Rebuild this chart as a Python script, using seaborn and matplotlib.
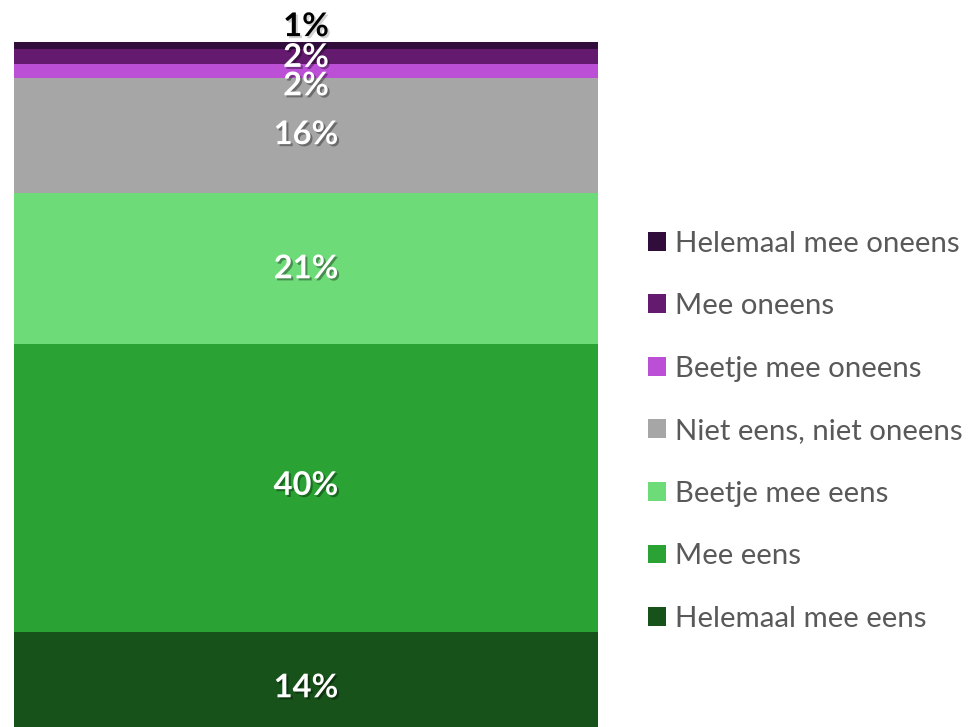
import matplotlib
matplotlib.use("Agg")
import matplotlib.pyplot as plt
import matplotlib.patheffects as pe
from matplotlib.patches import Patch
import seaborn as sns
import pandas as pd

# Answer categories, listed from the top of the stack down
categories = [
    "Helemaal mee oneens",
    "Mee oneens",
    "Beetje mee oneens",
    "Niet eens, niet oneens",
    "Beetje mee eens",
    "Mee eens",
    "Helemaal mee eens",
]
percentages = [1, 2, 2, 16, 21, 40, 14]
colors = ["#300d3b", "#641a6f", "#bb4fd6", "#a6a6a6", "#6ddb78", "#2aa334", "#165219"]
label_colors = ["black", "white", "white", "white", "white", "white", "white"]
# nudges (pixels) for the crowded labels at the top of the bar
label_nudge = [19, -1, -15, 1, 0, 3, -5]

df = pd.DataFrame({"groep": [0] * len(categories),
                   "antwoord": categories,
                   "pct": percentages})

sns.set_theme(style="white")
plt.rcParams["font.family"] = ["Lato", "DejaVu Sans"]

W, H = 971, 727
fig = plt.figure(figsize=(W / 100, H / 100), dpi=100)
px_per_unit = 7.2
total = sum(percentages)
top_px = 42
bottom_px = top_px + total * px_per_unit
ax = fig.add_axes([14 / W, (H - bottom_px) / H, 584 / W, (bottom_px - top_px) / H])

sns.histplot(data=df, x="groep", weights="pct", hue="antwoord",
             hue_order=categories, palette=colors, multiple="stack",
             discrete=True, shrink=1.0, element="bars", alpha=1,
             linewidth=0, legend=False, ax=ax)

ax.set_xlim(-0.5, 0.5)
ax.set_ylim(0, total)
ax.axis("off")

# value labels at the centre of each segment
running = total
for cat, val, lc, dy in zip(categories, percentages, label_colors, label_nudge):
    centre = running - val / 2
    running -= val
    shadow = "#000000" if lc == "white" else "#808080"
    ax.annotate(f"{val}%", xy=(0, centre), xytext=(0, dy),
                textcoords="offset pixels", ha="center", va="center",
                fontsize=23.5, fontweight="bold", color=lc,
                path_effects=[pe.SimplePatchShadow(offset=(1.5, -1.5), shadow_rgbFace=shadow, alpha=0.35),
                              pe.Normal()])

handles = [Patch(facecolor=c, edgecolor="none", label=l) for c, l in zip(colors, categories)]
fig.legend(handles=handles, loc="upper left", bbox_to_anchor=(636 / W, 1 - 219 / H),
           frameon=False, fontsize=21.2, labelcolor="#595959",
           handlelength=0.61, handleheight=0.61, handletextpad=0.31,
           labelspacing=1.24, borderaxespad=0)

fig.savefig("out.png", dpi=100)
